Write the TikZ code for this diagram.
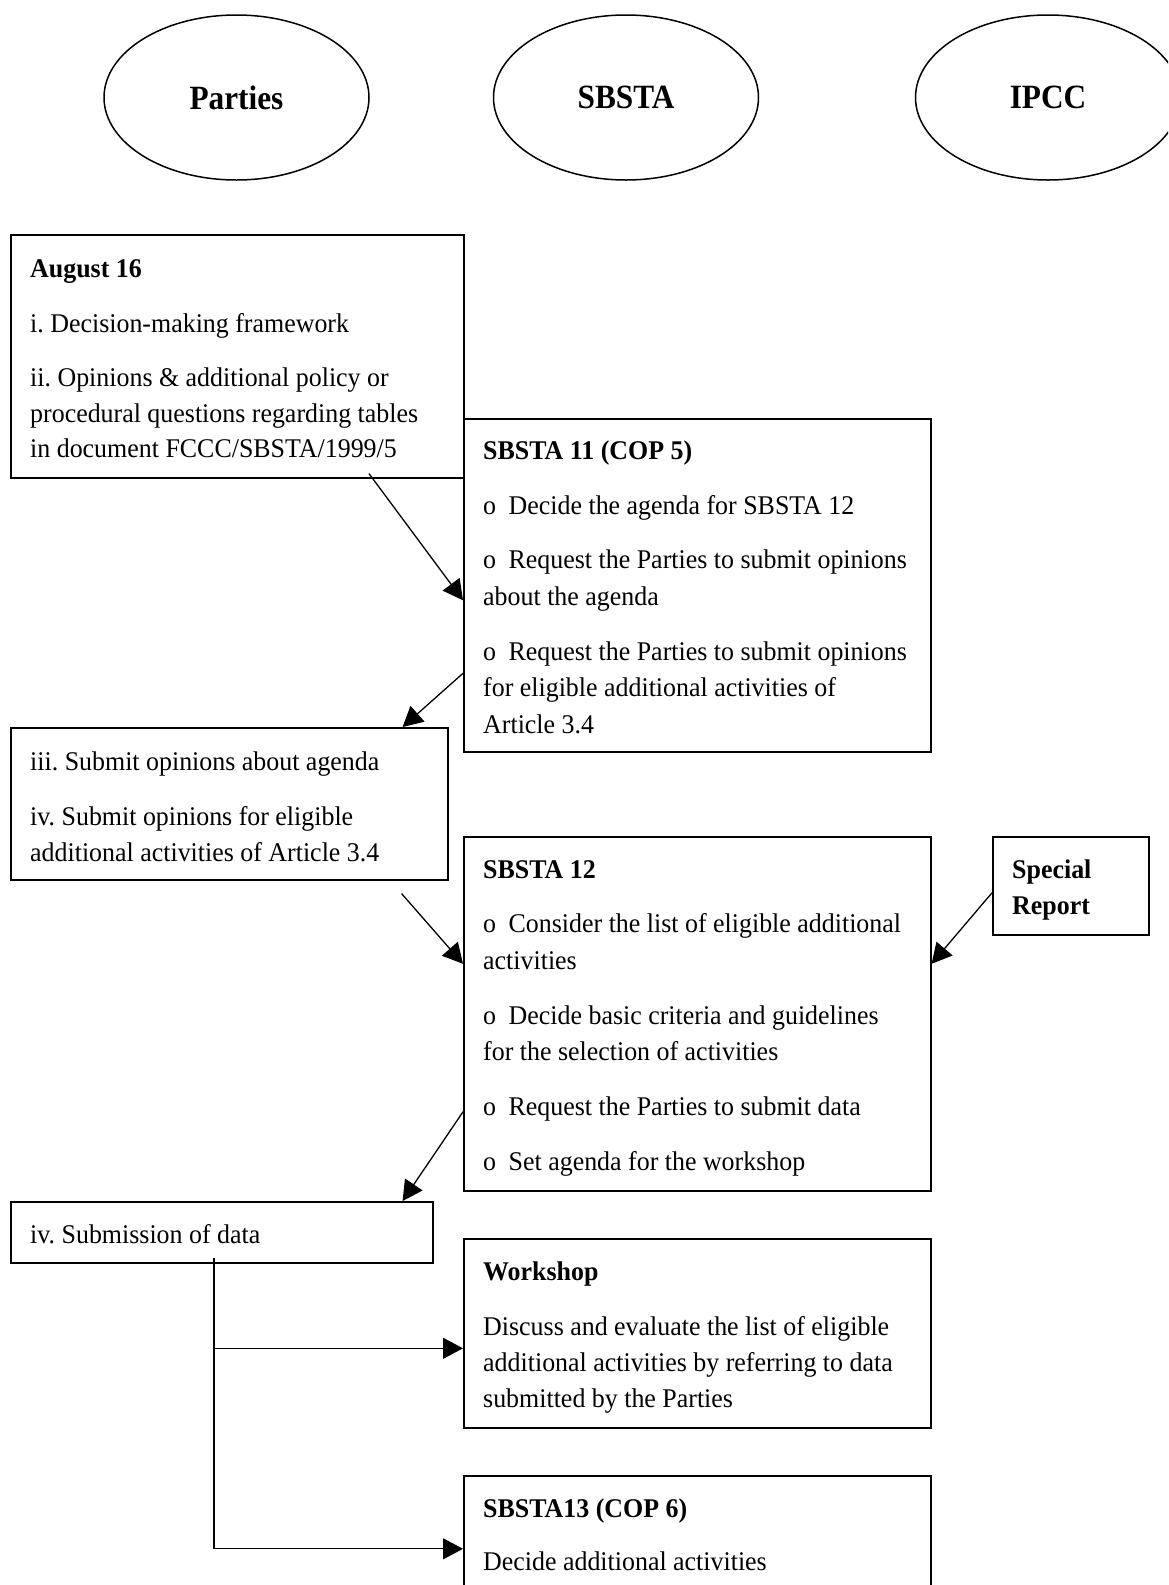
\documentclass[tikz,border=0pt]{standalone}
\usepackage{fontspec}
\setmainfont{Liberation Serif}[FakeStretch=0.96]
\newfontfamily\ellfont{Liberation Serif}[FakeStretch=0.92]
\usetikzlibrary{shapes.geometric,arrows.meta,calc}
\newcommand\obul{\makebox[25.5pt][l]{o}}
\frenchspacing
\begin{document}
\begin{tikzpicture}[x=1pt,y=-1pt,
  box/.style={draw, line width=1.6pt, inner sep=0pt, anchor=north west},
  ell/.style={draw, ellipse, line width=1.5pt, minimum width=265pt, minimum height=165pt, inner sep=0pt, font=\ellfont\bfseries\fontsize{34}{40}\selectfont},
  txt/.style={anchor=base west, inner sep=0pt, font=\fontsize{27}{36}\selectfont},
  hd/.style={anchor=base west, inner sep=0pt, font=\bfseries\fontsize{27}{36}\selectfont},
  arr/.style={line width=1.3pt, -{Triangle[length=20pt,width=21pt]}},
]
\useasboundingbox (0,0) rectangle (1168,1585);
\clip (0,0) rectangle (1168,1585);
\fill[white] (0,0) rectangle (1168,1585);

% ellipses
\node[ell] (parties) at (236.5,97.5) {Parties};
\node[ell] (sbsta) at (626,97.5) {SBSTA};
\node[ell] (ipcc) at (1048,97.5) {IPCC};

% boxes
\node[box, minimum width=453pt, minimum height=243pt] (aug) at (10,234) {};
\node[box, minimum width=467pt, minimum height=333pt] (s11) at (463,418) {};
\node[box, minimum width=437pt, minimum height=152pt] (iii) at (10,727) {};
\node[box, minimum width=467pt, minimum height=354pt] (s12) at (463,836) {};
\node[box, minimum width=156pt, minimum height=98pt] (sr) at (992,836) {};
\node[box, minimum width=422pt, minimum height=61pt] (sub) at (10,1201) {};
\node[box, minimum width=467pt, minimum height=189pt] (ws) at (463,1238) {};
\node[box, minimum width=467pt, minimum height=146pt] (s13) at (463,1475) {};

% texts: August 16
\node[hd] (a0) at (30,277) {August 16};
\node[txt] (a1) at (30,332) {i. Decision-making framework};
\node[txt] (a2) at (30,386) {ii. Opinions \& additional policy or};
\node[txt] (a3) at (30,422) {procedural questions regarding tables};
\node[txt] (a4) at (30,457) {in document FCCC/SBSTA/1999/5};

% SBSTA 11
\node[hd] (b0) at (483,459) {SBSTA 11 (COP 5)};
\node[txt] (b1) at (483,514) {\obul Decide the agenda for SBSTA 12};
\node[txt] (b2) at (483,568) {\obul Request the Parties to submit opinions};
\node[txt] (b3) at (483,605) {about the agenda};
\node[txt] (b4) at (483,660) {\obul Request the Parties to submit opinions};
\node[txt] (b5) at (483,696) {for eligible additional activities of};
\node[txt] (b6) at (483,733) {Article 3.4};

% iii
\node[txt] (c1) at (30,770) {iii. Submit opinions about agenda};
\node[txt] (c2) at (30,825) {iv. Submit opinions for eligible};
\node[txt] (c3) at (30,861) {additional activities of Article 3.4};

% SBSTA 12
\node[hd] (d0) at (483,878) {SBSTA 12};
\node[txt] (d1) at (483,932) {\obul Consider the list of eligible additional};
\node[txt] (d2) at (483,969) {activities};
\node[txt] (d3) at (483,1024) {\obul Decide basic criteria and guidelines};
\node[txt] (d4) at (483,1060) {for the selection of activities};
\node[txt] (d5) at (483,1115) {\obul Request the Parties to submit data};
\node[txt] (d6) at (483,1170) {\obul Set agenda for the workshop};

% Special Report
\node[hd] (e0) at (1012,878) {Special};
\node[hd] (e1) at (1012,914) {Report};

% Submission
\node[txt] (f1) at (30,1243) {iv. Submission of data};

% Workshop
\node[hd] (g0) at (483,1280) {Workshop};
\node[txt] (g1) at (483,1335) {Discuss and evaluate the list of eligible};
\node[txt] (g2) at (483,1371) {additional activities by referring to data};
\node[txt] (g3) at (483,1407) {submitted by the Parties};

% SBSTA13
\node[hd] (h0) at (483,1517) {SBSTA13 (COP 6)};
\node[txt] (h1) at (483,1570) {Decide additional activities};

% connectors
\draw[arr] ([xshift=359pt,yshift=5pt]aug.south west) -- ([yshift=-15pt]s11.west);
\draw[arr] ([yshift=-88pt]s11.west) -- ([xshift=-46pt]iii.north east);
\draw[arr] ([xshift=-47pt,yshift=-13pt]iii.south east) -- ([yshift=50pt]s12.west);
\draw[arr] ([yshift=-7pt]sr.west) -- ([yshift=50pt]s12.east);
\draw[arr] ([yshift=-98pt]s12.west) -- ([xshift=-31pt]sub.north east);
\coordinate (c0) at ([xshift=204pt,yshift=6pt]sub.south west);
\draw[arr] (c0) |- ([yshift=-15pt]ws.west);
\draw[arr] (c0) |- (s13.west);
\end{tikzpicture}
\end{document}
